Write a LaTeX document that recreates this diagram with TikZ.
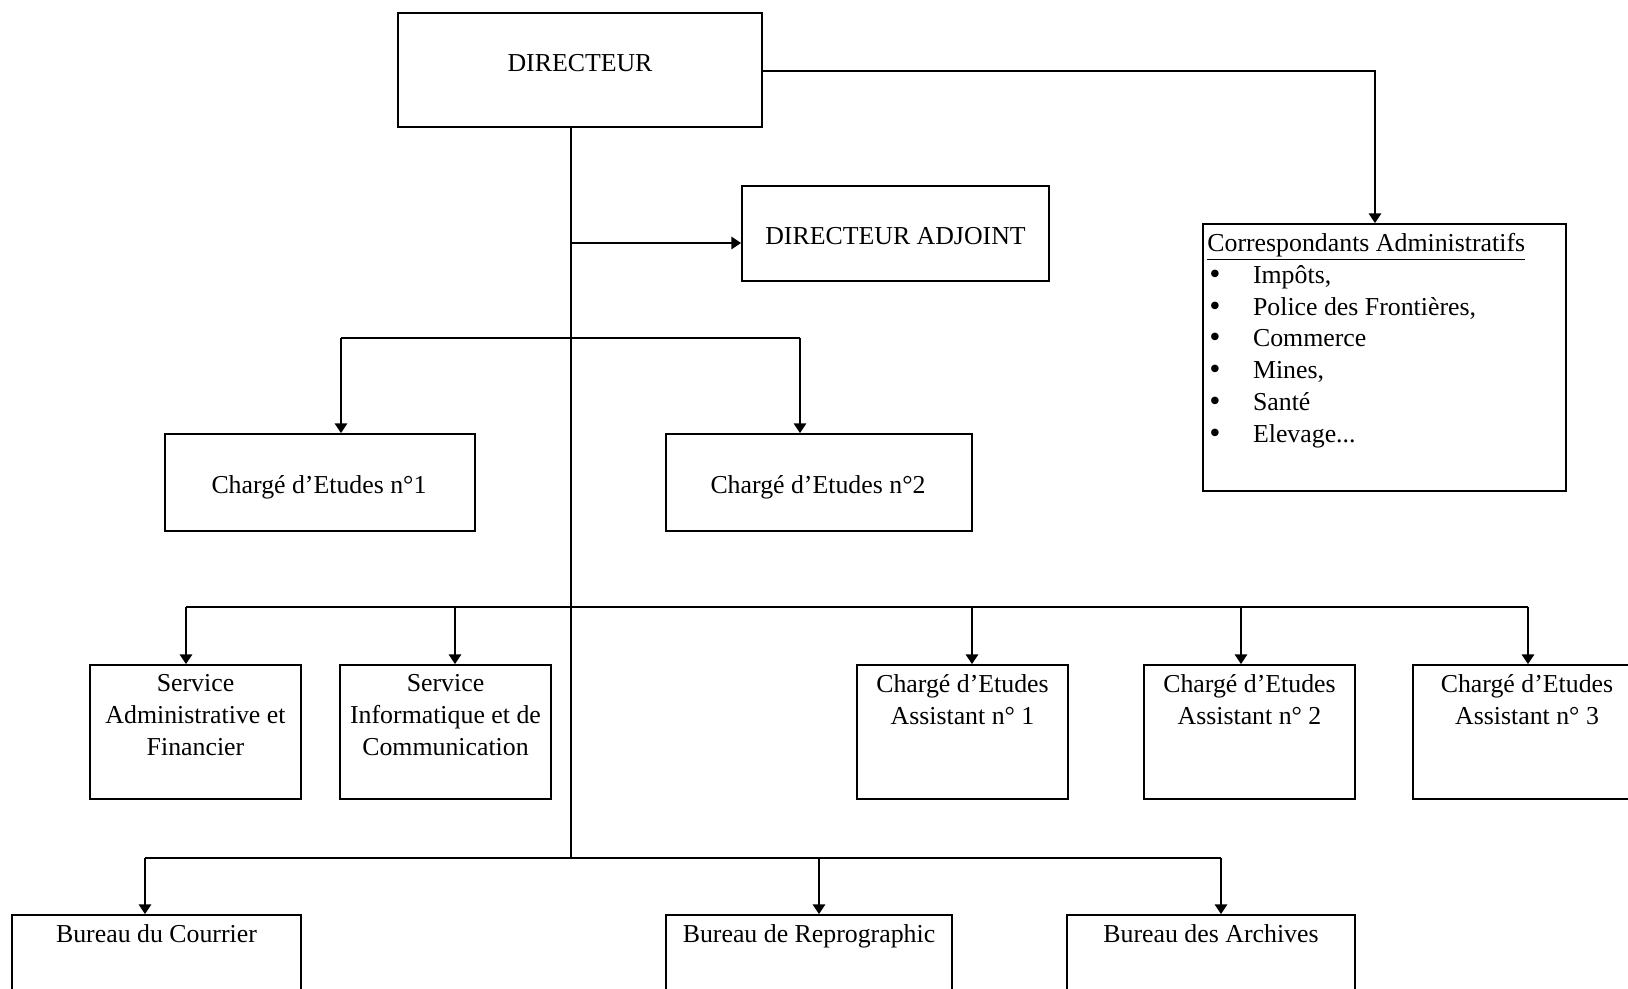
\documentclass[tikz,border=0pt]{standalone}
\usepackage{fontspec}
\setmainfont{Liberation Serif}
\newfontfamily\bulfont{DejaVu Sans}
\usetikzlibrary{arrows.meta,fit}
\newcommand{\bigbul}{\makebox[26pt][l]{\bulfont •}}
\begin{document}
\begin{tikzpicture}[x=0.02cm,y=-0.02cm,
  box/.style={draw, line width=1pt, inner sep=0pt, rectangle},
  txt/.style={inner sep=0pt, font=\fontsize{14.7}{18.1}\selectfont, align=center},
  conn/.style={line width=1.1pt},
  arr/.style={line width=1.1pt, -{Triangle[length=5.5pt,width=7pt]}}
]
\useasboundingbox (0,0) rectangle (1628,989);
\clip (0,0) rectangle (1628,989);

% boxes
\node[box, fit={(398,13) (762,127)}] (dir) {};
\node[box, fit={(742,186) (1049,281)}] (adj) {};
\node[box, fit={(1203,224) (1566,491)}] (corr) {};
\node[box, fit={(165,434) (475,531)}] (ce1) {};
\node[box, fit={(666,434) (972,531)}] (ce2) {};
\node[box, fit={(90,665) (301,799)}] (saf) {};
\node[box, fit={(340,665) (551,799)}] (sic) {};
\node[box, fit={(857,665) (1068,799)}] (cea1) {};
\node[box, fit={(1144,665) (1355,799)}] (cea2) {};
\node[box, fit={(1413,665) (1641,799)}] (cea3) {};
\node[box, fit={(12,915) (301,1010)}] (bc) {};
\node[box, fit={(666,915) (952,1010)}] (br) {};
\node[box, fit={(1067,915) (1355,1010)}] (ba) {};

% texts
\node[txt] (tdir) at (580,63) {DIRECTEUR};
\node[txt] (tadj) at ([yshift=-0.05cm]adj.center) {DIRECTEUR ADJOINT};
\node[txt, anchor=north west, align=left] (tcorr) at (1207,233)
  {\underline{Correspondants Administratifs}\\
   \bigbul Impôts,\\
   \bigbul Police des Frontières,\\
   \bigbul Commerce\\
   \bigbul Mines,\\
   \bigbul Santé\\
   \bigbul Elevage...};
\node[txt] (tce1) at (319,487) {Chargé d’Etudes n°1};
\node[txt] (tce2) at (818,487) {Chargé d’Etudes n°2};
\node[txt, anchor=north] (tsaf) at ([yshift=-0.2cm]saf.north) {Service\\Administrative et\\Financier};
\node[txt, anchor=north] (tsic) at ([yshift=-0.2cm]sic.north) {Service\\Informatique et de\\Communication};
\node[txt, anchor=north] (tcea1) at ([yshift=-0.2cm]cea1.north) {Chargé d’Etudes\\Assistant n° 1};
\node[txt, anchor=north] (tcea2) at ([yshift=-0.2cm]cea2.north) {Chargé d’Etudes\\Assistant n° 2};
\node[txt, anchor=north] (tcea3) at ([yshift=-0.2cm]cea3.north) {Chargé d’Etudes\\Assistant n° 3};
\node[txt, anchor=north] (tbc) at ([yshift=-0.2cm]bc.north) {Bureau du Courrier};
\node[txt, anchor=north] (tbr) at ([yshift=-0.2cm]br.north) {Bureau de Reprographic};
\node[txt, anchor=north] (tba) at ([yshift=-0.2cm]ba.north) {Bureau des Archives};

% junction coordinates
\coordinate (c1) at (1375,71);
\coordinate (j1) at (571,243);
\coordinate (a1) at (341,338);
\coordinate (a2) at (800,338);
\coordinate (s1) at (186,607);
\coordinate (s2) at (455,607);
\coordinate (s3) at (972,607);
\coordinate (s4) at (1241,607);
\coordinate (s5) at (1528,607);
\coordinate (b1) at (145,858);
\coordinate (b2) at (819,858);
\coordinate (b3) at (1221,858);
\coordinate (j4) at (571,858);

% connectors
\draw[conn] (j4 |- dir.south) -- (j4);
\draw[arr] (dir.east |- c1) -| (c1 |- corr.north);
\draw[arr] (j1) -- (j1 -| adj.west);
\draw[conn] (a1) -- (a2);
\draw[arr] (a1) -- (a1 |- ce1.north);
\draw[arr] (a2) -- (a2 |- ce2.north);
\draw[conn] (s1) -- (s5);
\draw[arr] (s1) -- (s1 |- saf.north);
\draw[arr] (s2) -- (s2 |- sic.north);
\draw[arr] (s3) -- (s3 |- cea1.north);
\draw[arr] (s4) -- (s4 |- cea2.north);
\draw[arr] (s5) -- (s5 |- cea3.north);
\draw[conn] (b1) -- (b3);
\draw[arr] (b1) -- (b1 |- bc.north);
\draw[arr] (b2) -- (b2 |- br.north);
\draw[arr] (b3) -- (b3 |- ba.north);
\end{tikzpicture}
\end{document}
